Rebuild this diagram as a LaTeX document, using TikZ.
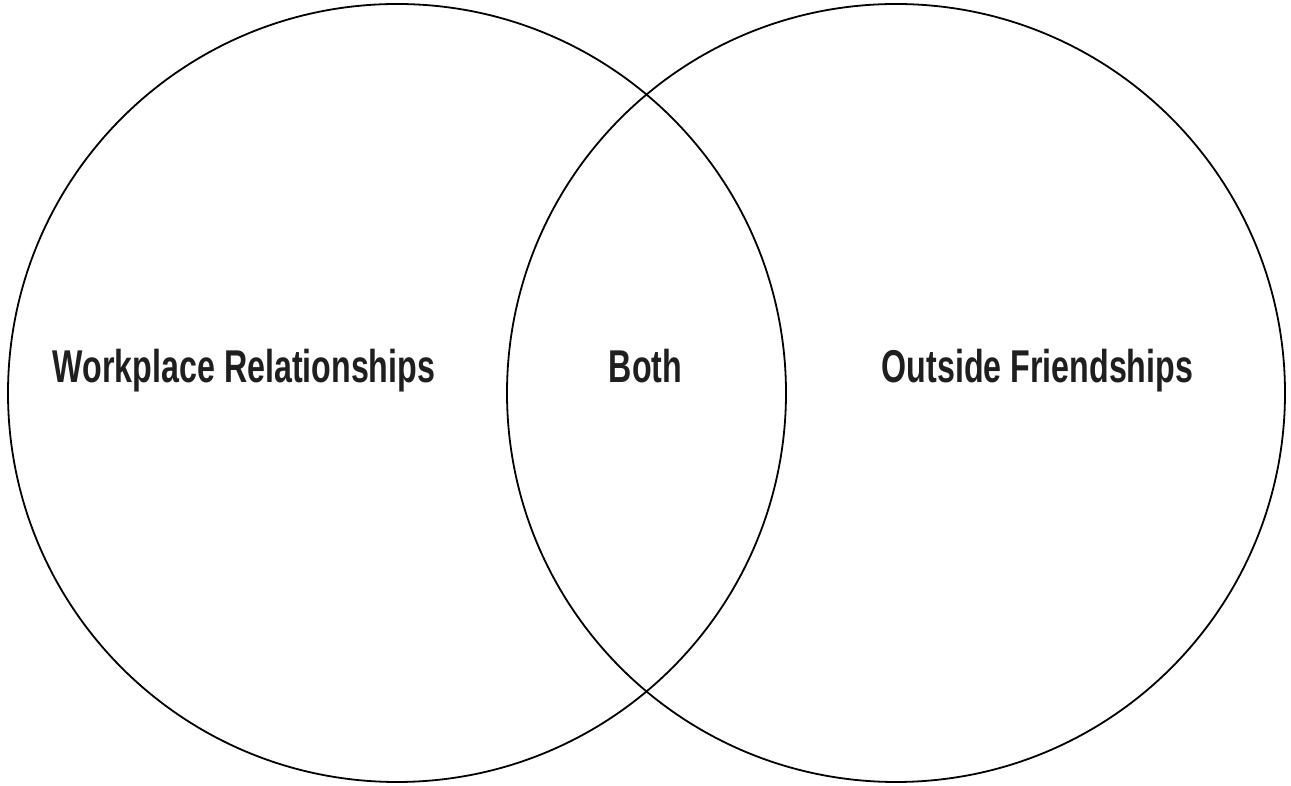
\documentclass[tikz,border=0pt]{standalone}
\usepackage{fontspec}
\setmainfont{Liberation Sans}
\begin{document}
\begin{tikzpicture}[x=1pt,y=1pt,
  ring/.style={draw=black,line width=1.8pt,circle,minimum size=778pt,inner sep=0pt},
  lbl/.style={anchor=base,inner sep=0pt,text=black!88,font=\fontsize{46}{52}\selectfont\bfseries}]
\useasboundingbox (0,0) rectangle (1291,786);
\node[ring] (L) at (397,393) {};
\node[ring] (R) at (896,393) {};
\node[lbl] (wr) at (244,403) {\scalebox{0.70}[1]{Workplace Relationships}};
\node[lbl] (both) at (645.5,403) {\scalebox{0.70}[1]{Both}};
\node[lbl] (of) at (1037.5,403) {\scalebox{0.70}[1]{Outside Friendships}};
\end{tikzpicture}
\end{document}
